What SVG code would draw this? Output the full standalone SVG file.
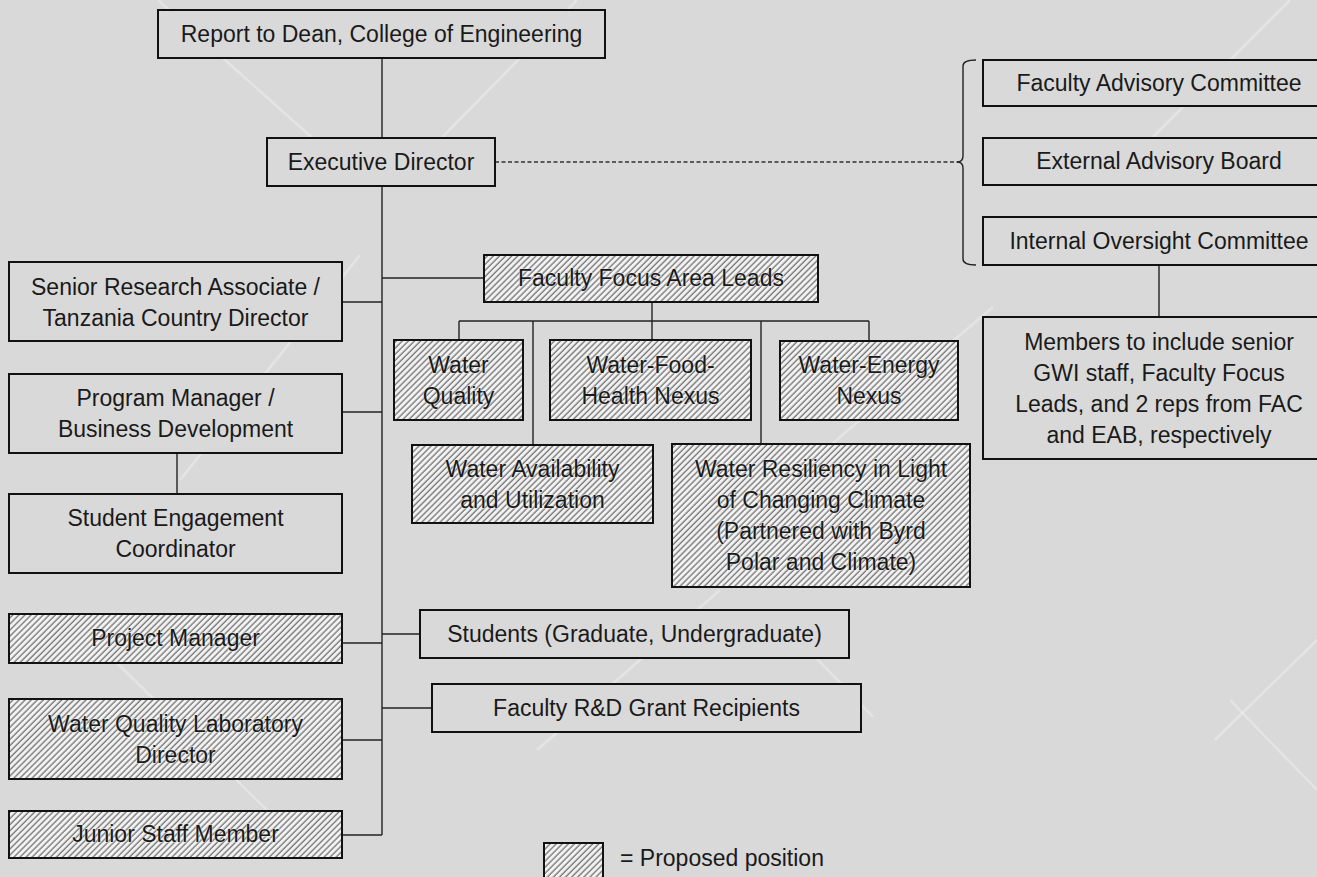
<svg xmlns="http://www.w3.org/2000/svg" width="1317" height="877" viewBox="0 0 1317 877">
<defs>
<pattern id="hatch" patternUnits="userSpaceOnUse" width="4.3" height="4.3" patternTransform="rotate(45)">
<rect width="4.3" height="4.3" fill="#f2f2f2"/>
<line x1="1" y1="0" x2="1" y2="4.3" stroke="#555555" stroke-width="1.05"/>
</pattern>
<style>
.bg{fill:#d9d9d9}
.wm{stroke:#ffffff;stroke-opacity:0.3;stroke-width:2.5;fill:none}
.box{fill:#d9d9d9;stroke:#111;stroke-width:2}
.hbox{fill:url(#hatch);stroke:#111;stroke-width:2}
.ln{stroke:#222;stroke-width:1.4;fill:none}
.dash{stroke:#333;stroke-width:1.3;stroke-dasharray:4 2.5;fill:none}
text{font-family:"Liberation Sans",Arial,sans-serif;font-size:23px;fill:#1a1a1a;text-anchor:middle}
.h text{stroke:#eeeeee;stroke-opacity:0.55;stroke-width:1.6;paint-order:stroke;stroke-linejoin:round}
</style>
</defs>
<rect class="bg" x="0" y="0" width="1317" height="877"/>
<g id="watermark">
<line class="wm" x1="158" y1="0" x2="365" y2="185"/>
<line class="wm" x1="577" y1="0" x2="420" y2="160"/>
<line class="wm" x1="360" y1="255" x2="180" y2="480"/>
<line class="wm" x1="117" y1="663" x2="267" y2="810"/>
<line class="wm" x1="720" y1="590" x2="537" y2="750"/>
<line class="wm" x1="780" y1="620" x2="873" y2="717"/>
<line class="wm" x1="993" y1="307" x2="833" y2="443"/>
<line class="wm" x1="1290" y1="0" x2="1130" y2="160"/>
<line class="wm" x1="1317" y1="640" x2="1215" y2="740"/>
<line class="wm" x1="1230" y1="700" x2="1317" y2="790"/>
</g>
<g id="connectors">
<line class="ln" x1="382" y1="58" x2="382" y2="138"/>
<line class="ln" x1="382" y1="186" x2="382" y2="835"/>
<line class="dash" x1="495" y1="162" x2="958" y2="162"/>
<path class="ln" d="M976,60 Q963,60 963,66 L963,156 Q963,162 957,162 Q963,162 963,168 L963,259 Q963,265 976,265"/>
<line class="ln" x1="1159" y1="265" x2="1159" y2="317"/>
<line class="ln" x1="342" y1="302" x2="382" y2="302"/>
<line class="ln" x1="342" y1="412" x2="382" y2="412"/>
<line class="ln" x1="177" y1="453" x2="177" y2="494"/>
<line class="ln" x1="342" y1="643" x2="382" y2="643"/>
<line class="ln" x1="342" y1="740" x2="382" y2="740"/>
<line class="ln" x1="342" y1="835" x2="382" y2="835"/>
<line class="ln" x1="382" y1="278" x2="484" y2="278"/>
<line class="ln" x1="382" y1="634" x2="420" y2="634"/>
<line class="ln" x1="382" y1="708" x2="432" y2="708"/>
<line class="ln" x1="652" y1="302" x2="652" y2="340"/>
<line class="ln" x1="459" y1="321" x2="869" y2="321"/>
<line class="ln" x1="459" y1="321" x2="459" y2="340"/>
<line class="ln" x1="533" y1="321" x2="533" y2="445"/>
<line class="ln" x1="761" y1="321" x2="761" y2="444"/>
<line class="ln" x1="869" y1="321" x2="869" y2="341"/>
</g>
<g id="report"><rect class="box" x="158" y="10" width="447" height="48"/><text x="381.5" y="42">Report to Dean, College of Engineering</text></g>
<g id="executive-director"><rect class="box" x="267" y="138" width="228" height="48"/><text x="381" y="170">Executive Director</text></g>
<g id="faculty-advisory"><rect class="box" x="983" y="60" width="352" height="46"/><text x="1159" y="91">Faculty Advisory Committee</text></g>
<g id="external-advisory"><rect class="box" x="983" y="138" width="352" height="47"/><text x="1159" y="169">External Advisory Board</text></g>
<g id="internal-oversight"><rect class="box" x="983" y="217" width="352" height="48"/><text x="1159" y="249">Internal Oversight Committee</text></g>
<g id="members"><rect class="box" x="983" y="317" width="352" height="142"/>
<text x="1159" y="350">Members to include senior</text>
<text x="1159" y="381">GWI staff, Faculty Focus</text>
<text x="1159" y="412">Leads, and 2 reps from FAC</text>
<text x="1159" y="443">and EAB, respectively</text></g>
<g id="senior-research"><rect class="box" x="9" y="262" width="333" height="79"/><text x="175.5" y="295">Senior Research Associate /</text><text x="175.5" y="326">Tanzania Country Director</text></g>
<g id="program-manager"><rect class="box" x="9" y="374" width="333" height="79"/><text x="175.5" y="406">Program Manager /</text><text x="175.5" y="437">Business Development</text></g>
<g id="student-engagement"><rect class="box" x="9" y="494" width="333" height="79"/><text x="175.5" y="526">Student Engagement</text><text x="175.5" y="557">Coordinator</text></g>
<g id="project-manager" class="h"><rect class="hbox" x="9" y="614" width="333" height="49"/><text x="175.5" y="646">Project Manager</text></g>
<g id="wq-lab-director" class="h"><rect class="hbox" x="9" y="699" width="333" height="80"/><text x="175.5" y="732">Water Quality Laboratory</text><text x="175.5" y="763">Director</text></g>
<g id="junior-staff" class="h"><rect class="hbox" x="9" y="811" width="333" height="47"/><text x="175.5" y="842">Junior Staff Member</text></g>
<g id="faculty-focus" class="h"><rect class="hbox" x="484" y="255" width="334" height="47"/><text x="651" y="286">Faculty Focus Area Leads</text></g>
<g id="water-quality" class="h"><rect class="hbox" x="394" y="340" width="129" height="80"/><text x="458.5" y="373">Water</text><text x="458.5" y="404">Quality</text></g>
<g id="water-food-health" class="h"><rect class="hbox" x="550" y="340" width="201" height="80"/><text x="650.5" y="373">Water-Food-</text><text x="650.5" y="404">Health Nexus</text></g>
<g id="water-energy" class="h"><rect class="hbox" x="780" y="341" width="178" height="79"/><text x="869" y="373">Water-Energy</text><text x="869" y="404">Nexus</text></g>
<g id="water-availability" class="h"><rect class="hbox" x="412" y="445" width="241" height="78"/><text x="532.5" y="477">Water Availability</text><text x="532.5" y="508">and Utilization</text></g>
<g id="water-resiliency" class="h"><rect class="hbox" x="672" y="444" width="298" height="143"/>
<text x="821" y="477">Water Resiliency in Light</text>
<text x="821" y="508">of Changing Climate</text>
<text x="821" y="539">(Partnered with Byrd</text>
<text x="821" y="570">Polar and Climate)</text></g>
<g id="students"><rect class="box" x="420" y="610" width="429" height="48"/><text x="634.5" y="642">Students (Graduate, Undergraduate)</text></g>
<g id="faculty-rd"><rect class="box" x="432" y="684" width="429" height="48"/><text x="646.5" y="716">Faculty R&amp;D Grant Recipients</text></g>
<g id="legend"><rect class="hbox" x="544" y="843" width="59" height="42"/><text x="620" y="866" style="text-anchor:start">= Proposed position</text></g>
</svg>
